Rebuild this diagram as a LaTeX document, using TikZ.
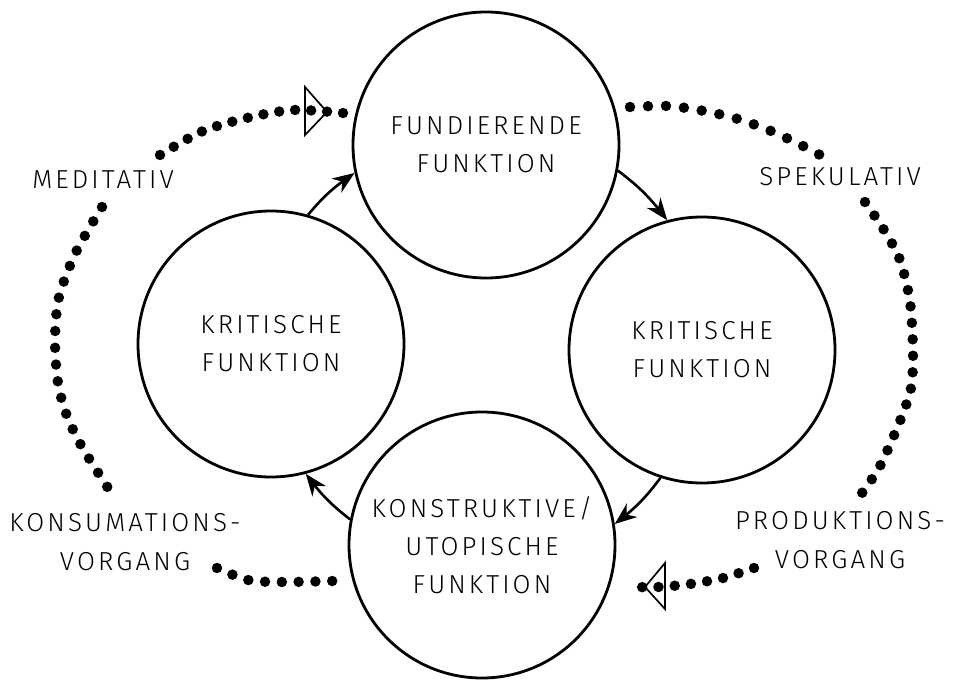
\documentclass[tikz,border=0pt]{standalone}
\usepackage{fontspec}
\setmainfont{Fira Sans}[UprightFont={* Light}, LetterSpace=12]
\usetikzlibrary{arrows.meta,bending}

\begin{document}
\begin{tikzpicture}[x=1pt,y=-1pt,
    func/.style={circle, draw, line width=2.8pt, minimum size=266pt, inner sep=0pt, align=center, font=\fontsize{26}{38}\selectfont},
    flow/.style={line width=2.6pt, -{Stealth[length=22pt,width=17pt,inset=7pt]}},
    dots/.style={line width=10.5pt, line cap=round, dash pattern=on 0pt off #1},
    dots/.default=16pt,
    tipmark/.style={line width=1.7pt, line join=miter},
    lab/.style={inner sep=0pt, align=center, font=\fontsize{26}{39}\selectfont}]
    \useasboundingbox (0,0) rectangle (957,679);
    % Functions
    \node[func] (fund) at (486,145) {FUNDIERENDE\\FUNKTION};
    \node[func] (kritL) at (271,344) {KRITISCHE\\FUNKTION};
    \node[func] (kritR) at (702,350) {KRITISCHE\\FUNKTION};
    \node[func] (konstr) at (482,545) {KONSTRUKTIVE/\\UTOPISCHE\\FUNKTION};
    %
    \draw[flow] (kritL.74) to[bend left=8] (fund.192);
    \draw[flow] (fund.349) to[bend left=8] (kritR.105);
    \draw[flow] (kritR.252) to[bend left=8] (konstr.9);
    \draw[flow] (konstr.169) to[bend left=8] (kritL.285);
    % Labels
    \node[lab] (medit) at (103,180) {MEDITATIV};
    \node[lab] (spek) at (840,177) {SPEKULATIV};
    \node[lab] (konsum) at (125,542) {KONSUMATIONS-\\VORGANG};
    \node[lab] (produkt) at (840,540) {PRODUKTIONS-\\VORGANG};
    % Dotted loops
    \draw[dots=16pt] plot[smooth] coordinates {(343,113) (294,110) (251,117) (203,131) (160,155)};
    \draw[dots=16.8pt] plot[smooth] coordinates {(102,207) (76,252) (59,297) (55,340) (58,383) (67,416) (82,447) (108,488)};
    \draw[dots=16.8pt] plot[smooth] coordinates {(217,568) (248,580) (282,582) (333,581)};
    %
    \draw[dots=18pt] plot[smooth] coordinates {(630,107) (668,106) (704,111) (738,119) (771,131) (803,146) (820,155)};
    \draw[dots=16.5pt] plot[smooth] coordinates {(865,202) (884,230) (900,260) (910,302) (913,352) (911,388) (900,421) (880,466) (862,493)};
    \draw[dots=16.3pt] plot[smooth] coordinates {(754,568) (723,578) (690,584) (658,587) (626,587)};
    % Direction marks
    \draw[tipmark] (305,87) -- (327,112) -- (305,135) -- cycle;
    \draw[tipmark] (665,563) -- (645,587) -- (665,609) -- cycle;
\end{tikzpicture}
\end{document}
